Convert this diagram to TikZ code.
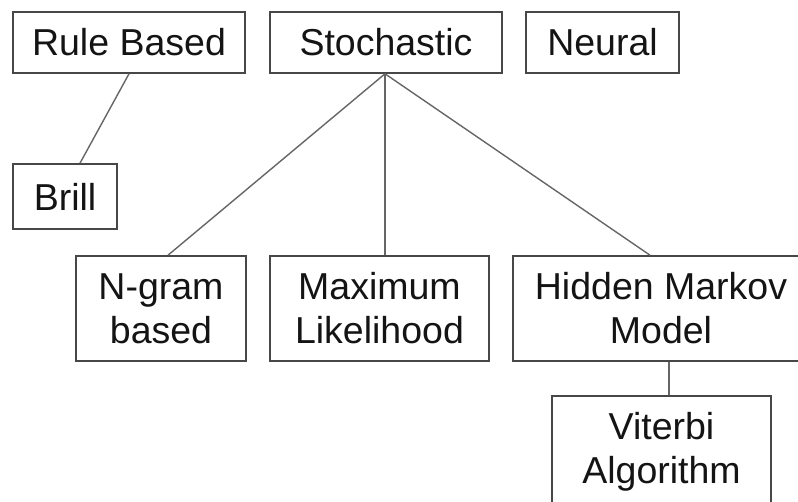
\documentclass[tikz,border=0pt]{standalone}
\usepackage{fontspec}
\setmainfont{Liberation Sans}
\begin{document}
\begin{tikzpicture}[x=1pt,y=-1pt,
  box/.style={draw=black!72, line width=1.6pt, fill=white, text=black!92,
    align=center, inner sep=0pt, font=\fontsize{37.5}{44}\selectfont},
  link/.style={draw=black!60, line width=1.4pt}]
\useasboundingbox (0,0) rectangle (798,502);
\clip (0,0) rectangle (798,502);
\fill[white] (0,0) rectangle (798,502);
\node[box, minimum width=232pt, minimum height=61pt] (rule) at (129,42.5) {Rule Based};
\node[box, minimum width=232pt, minimum height=61pt] (stoch) at (386,42.5) {Stochastic};
\node[box, minimum width=153pt, minimum height=61pt] (neural) at (602.5,42.5) {Neural};
\node[box, minimum width=104pt, minimum height=65pt] (brill) at (65,196.5) {Brill};
\node[box, minimum width=170pt, minimum height=105pt] (ngram) at (161,308.5) {N-gram\\based};
\node[box, minimum width=219pt, minimum height=105pt] (maxl) at (379.5,308.5) {Maximum\\Likelihood};
\node[box, minimum width=296pt, minimum height=105pt] (hmm) at (661,308.5) {Hidden Markov\\Model};
\node[box, minimum width=219pt, minimum height=112pt] (vit) at (661.5,452) {Viterbi\\Algorithm};
\draw[link] (rule.south) -- ([xshift=15pt]brill.north);
\draw[link] ([xshift=-1pt]stoch.south) -- ([xshift=7pt]ngram.north);
\draw[link] ([xshift=-1pt]stoch.south) -- ([xshift=5.5pt]maxl.north);
\draw[link] ([xshift=-1pt]stoch.south) -- ([xshift=-11pt]hmm.north);
\draw[link] ([xshift=8pt]hmm.south) -- ([xshift=7.5pt]vit.north);
\end{tikzpicture}
\end{document}
